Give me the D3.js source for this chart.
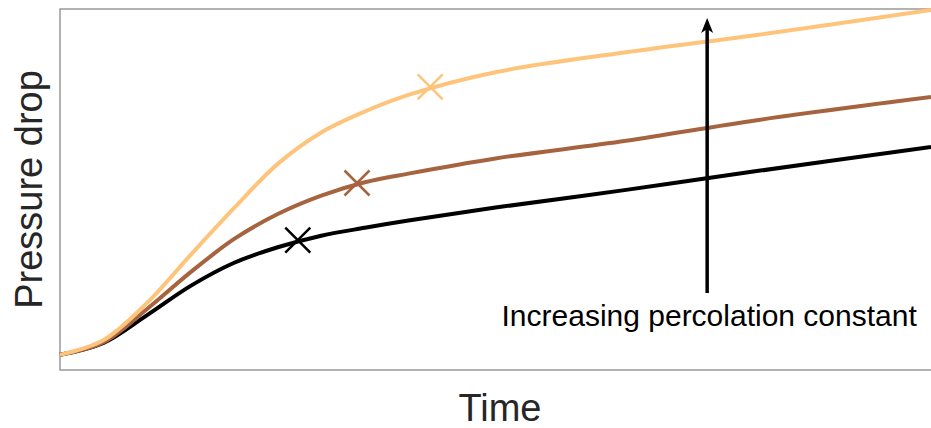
<!DOCTYPE html>
<html><head><meta charset="utf-8">
<script src="https://cdn.jsdelivr.net/npm/d3@7"></script>
<style>body{margin:0;background:#fff}svg{display:block}</style>
</head><body>
<svg id="c" width="931" height="428"></svg>
<script>
// Data (arbitrary units)
const time = [0, 0.5, 1, 1.5, 2, 2.5, 3, 3.5, 4, 5, 6.5, 8, 10];
const lowK  = [0.42, 0.75, 1.52, 2.33, 2.97, 3.40, 3.72, 3.94, 4.14, 4.50, 4.99, 5.51, 6.18];
const midK  = [0.42, 0.77, 1.69, 2.71, 3.63, 4.32, 4.83, 5.20, 5.44, 5.86, 6.35, 6.92, 7.56];
const highK = [0.42, 0.83, 1.86, 3.19, 4.49, 5.71, 6.58, 7.16, 7.62, 8.25, 8.80, 9.28, 9.97];
const seriesNames = ["low", "mid", "high"];
const seriesColors = ["#000000", "#a5643f", "#fec47c"];
const markerTime = [2.73, 3.41, 4.25];
const markerValue = [3.60, 5.18, 7.84];
const arrowTime = 7.43, arrowFrom = 2.13, arrowTo = 9.75;
const annotation = "Increasing percolation constant";
const xLabel = "Time", yLabel = "Pressure drop";

(function () {
const svg = d3.select("#c");
const mL = 60, mR = 931, mT = 9, mB = 370;
const x = d3.scaleLinear().domain([0, 10]).range([mL, mR]);
const y = d3.scaleLinear().domain([0, 10]).range([mB, mT]);

// frame
svg.append("path").attr("d", `M${mR + 2},${mT}H${mL}V${mB}H${mR + 2}`)
  .attr("stroke", "#999").attr("stroke-width", 1.5).attr("fill", "none");

const series = [lowK, midK, highK];
const line = d3.line().x((d, i) => x(time[i])).y(d => y(d)).curve(d3.curveCatmullRom.alpha(0.5));

[0, 1, 2].forEach(k => {
  svg.append("path").datum(series[k]).attr("d", line)
    .attr("fill", "none").attr("stroke", seriesColors[k]).attr("stroke-width", 4);
});

// markers
const ms = 12.5;
[0, 1, 2].forEach(k => {
  const cx = x(markerTime[k]), cy = y(markerValue[k]);
  svg.append("path").attr("d", `M${cx - ms},${cy - ms}L${cx + ms},${cy + ms}M${cx - ms},${cy + ms}L${cx + ms},${cy - ms}`)
    .attr("stroke", seriesColors[k]).attr("stroke-width", 2.5).attr("fill", "none");
});

// arrow
const ax = x(arrowTime), ay1 = y(arrowFrom), ay2 = y(arrowTo);
svg.append("line").attr("x1", ax).attr("x2", ax).attr("y1", ay1).attr("y2", ay2 + 10)
  .attr("stroke", "#000").attr("stroke-width", 3.5);
svg.append("path").attr("d", `M${ax},${ay2}L${ax - 6},${ay2 + 15}L${ax},${ay2 + 11}L${ax + 6},${ay2 + 15}Z`)
  .attr("fill", "#000");

svg.append("text").attr("x", ax + 2).attr("y", ay1 + 33)
  .attr("text-anchor", "middle").attr("font-family", "Liberation Sans, Arial, sans-serif")
  .attr("font-size", 30).attr("fill", "#000").text(annotation);

svg.append("text").attr("x", 500).attr("y", 421).attr("text-anchor", "middle")
  .attr("font-family", "Liberation Sans, Arial, sans-serif").attr("font-size", 38).attr("fill", "#262626").text(xLabel);
svg.append("text").attr("transform", `translate(42,${(mT + mB) / 2}) rotate(-90)`).attr("text-anchor", "middle")
  .attr("font-family", "Liberation Sans, Arial, sans-serif").attr("font-size", 38).attr("fill", "#262626").text(yLabel);
})();
</script>
</body></html>
